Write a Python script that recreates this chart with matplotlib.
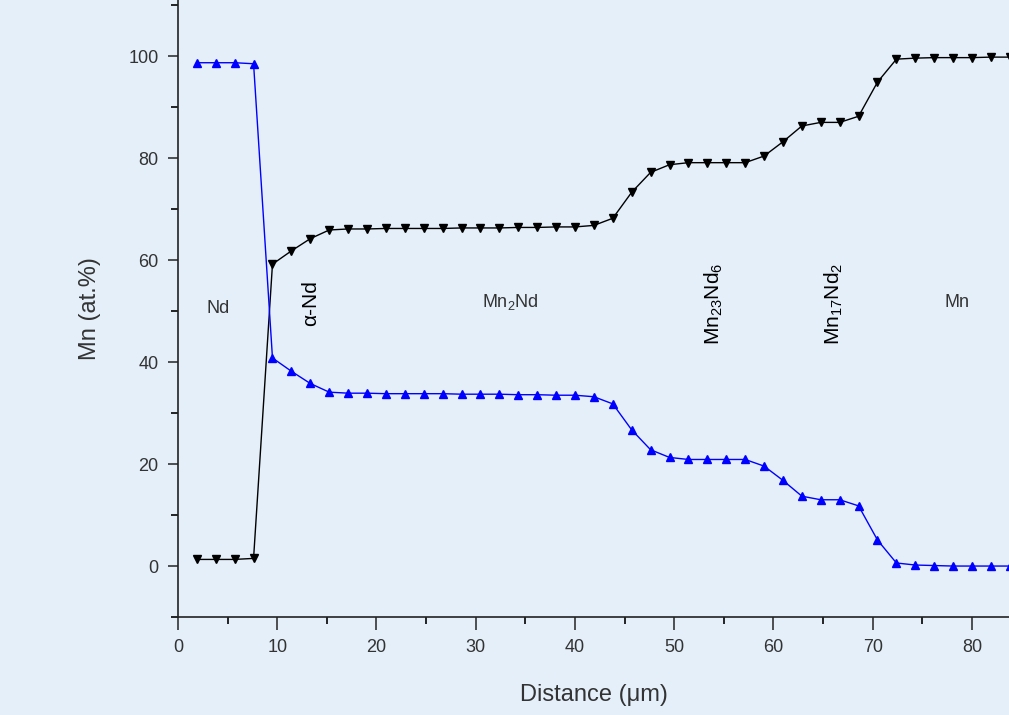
import numpy as np
import matplotlib
matplotlib.use("Agg")
import matplotlib.pyplot as plt

plt.rcParams['font.family'] = ['Liberation Sans', 'DejaVu Sans']
plt.rcParams['mathtext.default'] = 'regular'

# distance of each measured point (um)
distance = [1.9 + 1.905 * i for i in range(44)]

# Nd-rich side -> Mn-rich side (blue, up triangles)
blue_vals = [98.7, 98.7, 98.7, 98.5, 40.8, 38.2, 35.8, 34.1,
             33.9, 33.9, 33.8, 33.8, 33.8, 33.8, 33.7, 33.7, 33.7, 33.6, 33.6,
             33.5, 33.5, 33.2, 31.8, 26.7, 22.8, 21.3, 20.9, 20.9, 20.9, 20.9,
             19.6, 16.8, 13.7, 13.0, 13.0, 11.8, 5.1, 0.6, 0.2, 0.1,
             0.0, 0.0, 0.0, 0.0]

# Mn content (black, down triangles)
black_vals = [1.3, 1.3, 1.3, 1.5, 59.2, 61.8, 64.2, 65.9,
              66.1, 66.1, 66.2, 66.2, 66.2, 66.2, 66.3, 66.3, 66.3, 66.4, 66.4,
              66.5, 66.5, 66.8, 68.2, 73.3, 77.2, 78.7, 79.1, 79.1, 79.1, 79.1,
              80.4, 83.2, 86.3, 87.0, 87.0, 88.2, 94.9, 99.4, 99.6, 99.7,
              99.7, 99.7, 99.8, 99.8]

phase_labels = ["Nd", "α-Nd", "Mn$_2$Nd", "Mn$_{23}$Nd$_6$", "Mn$_{17}$Nd$_2$", "Mn"]
phase_x = [4.0, 13.4, 33.5, 54.0, 66.1, 78.5]
phase_y = [50.6, 51.5, 51.8, 51.5, 51.5, 51.6]
phase_rot = [0, 90, 0, 90, 90, 0]
phase_size = [13, 15, 13, 15, 15, 13]

bg = '#e4effa'
fig = plt.figure(figsize=(10.09, 7.15), dpi=100, facecolor=bg)
ax = fig.add_axes([0.1764, 0.137, 0.8236, 0.863], facecolor=bg)

ax.plot(distance, black_vals, color='black', lw=1.0, marker='v', ms=6)
ax.plot(distance, blue_vals, color='#0000ff', lw=1.0, marker='^', ms=6)

for lab, x, y, r, fs in zip(phase_labels, phase_x, phase_y, phase_rot, phase_size):
    ax.text(x, y, lab, rotation=r, ha='center', va='center', fontsize=fs,
            color='#333333' if r == 0 else 'black')

ax.set_xlim(0, 83.73)
ax.set_ylim(-10, 111)
ax.set_xticks(range(0, 81, 10))
ax.set_xticks(range(5, 81, 10), minor=True)
ax.set_yticks(range(0, 101, 20))
ax.set_yticks(range(-10, 111, 20), minor=True)
ax.tick_params(axis='x', which='major', length=9, width=1.2, labelsize=13, pad=7, colors='#333333')
ax.tick_params(axis='x', which='minor', length=5, width=1.2)
ax.tick_params(axis='y', which='major', length=7, width=1.2, labelsize=13, pad=7, colors='#333333')
ax.tick_params(axis='y', which='minor', length=5, width=1.2)
for s in ['top', 'right']:
    ax.spines[s].set_visible(False)
for s in ['left', 'bottom']:
    ax.spines[s].set_linewidth(1.2)
    ax.spines[s].set_color('#222222')

ax.set_xlabel("Distance (μm)", fontsize=17, color='#333333', labelpad=20)
ax.set_ylabel("Mn (at.%)", fontsize=17, color='#333333', labelpad=20)

fig.savefig("out.png", dpi=100, facecolor=bg)
